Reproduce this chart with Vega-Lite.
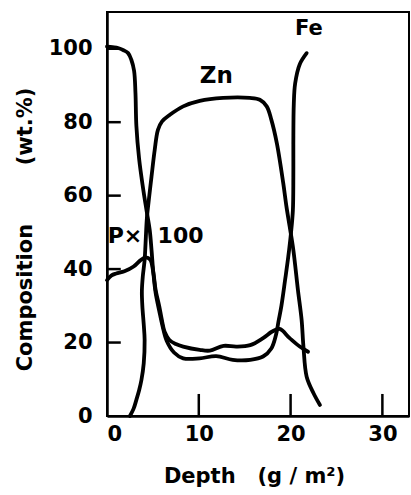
{
  "$schema": "https://vega.github.io/schema/vega-lite/v6.json",
  "width": 302,
  "height": 404,
  "autosize": "none",
  "padding": {"left": 107, "top": 12, "right": 2, "bottom": 79},
  "background": "white",
  "config": {
    "view": {"stroke": "black", "strokeWidth": 2},
    "axis": {
      "grid": false,
      "ticks": false,
      "domainColor": "black",
      "domainWidth": 2.5,
      "labelColor": "black",
      "labelFont": "DejaVu Sans",
      "labelFontWeight": "bold",
      "labelFontSize": 21,
      "titleColor": "black",
      "titleFont": "DejaVu Sans",
      "titleFontWeight": "bold",
      "titleFontSize": 21
    }
  },
  "datasets": {
    "curves": [
      {"series": "Fe", "i": 1, "depth": 0, "value": 100.6},
      {"series": "Fe", "i": 2, "depth": 0.6, "value": 100.4},
      {"series": "Fe", "i": 3, "depth": 1.2, "value": 100.2},
      {"series": "Fe", "i": 4, "depth": 1.8, "value": 99.6},
      {"series": "Fe", "i": 5, "depth": 2.3, "value": 98.8},
      {"series": "Fe", "i": 6, "depth": 2.65, "value": 97},
      {"series": "Fe", "i": 7, "depth": 2.95, "value": 94},
      {"series": "Fe", "i": 8, "depth": 3.1, "value": 88},
      {"series": "Fe", "i": 9, "depth": 3.2, "value": 79},
      {"series": "Fe", "i": 10, "depth": 3.5, "value": 70},
      {"series": "Fe", "i": 11, "depth": 3.9, "value": 62.5},
      {"series": "Fe", "i": 12, "depth": 4.3, "value": 56.1},
      {"series": "Fe", "i": 13, "depth": 4.65, "value": 50.7},
      {"series": "Fe", "i": 14, "depth": 4.85, "value": 45.2},
      {"series": "Fe", "i": 15, "depth": 5.05, "value": 39},
      {"series": "Fe", "i": 16, "depth": 5.3, "value": 33.5},
      {"series": "Fe", "i": 17, "depth": 5.7, "value": 28.5},
      {"series": "Fe", "i": 18, "depth": 6.05, "value": 24.5},
      {"series": "Fe", "i": 19, "depth": 6.5, "value": 20.5},
      {"series": "Fe", "i": 20, "depth": 7.3, "value": 17.3},
      {"series": "Fe", "i": 21, "depth": 8.3, "value": 15.7},
      {"series": "Fe", "i": 22, "depth": 10.1, "value": 15.7},
      {"series": "Fe", "i": 23, "depth": 11.9, "value": 16.3},
      {"series": "Fe", "i": 24, "depth": 13.7, "value": 15.3},
      {"series": "Fe", "i": 25, "depth": 15.6, "value": 15.3},
      {"series": "Fe", "i": 26, "depth": 17.0, "value": 16.2},
      {"series": "Fe", "i": 27, "depth": 17.9, "value": 18.4},
      {"series": "Fe", "i": 28, "depth": 18.4, "value": 22},
      {"series": "Fe", "i": 29, "depth": 18.7, "value": 26},
      {"series": "Fe", "i": 30, "depth": 19.0, "value": 30},
      {"series": "Fe", "i": 31, "depth": 19.4, "value": 37},
      {"series": "Fe", "i": 32, "depth": 19.75, "value": 43.4},
      {"series": "Fe", "i": 33, "depth": 20.05, "value": 50},
      {"series": "Fe", "i": 34, "depth": 20.25, "value": 56},
      {"series": "Fe", "i": 35, "depth": 20.3, "value": 65},
      {"series": "Fe", "i": 36, "depth": 20.3, "value": 74},
      {"series": "Fe", "i": 37, "depth": 20.35, "value": 85},
      {"series": "Fe", "i": 38, "depth": 20.5, "value": 90.6},
      {"series": "Fe", "i": 39, "depth": 21.0, "value": 95.8},
      {"series": "Fe", "i": 40, "depth": 21.75, "value": 98.8},
      {"series": "Zn", "i": 1, "depth": 2.5, "value": 0},
      {"series": "Zn", "i": 2, "depth": 2.9, "value": 2},
      {"series": "Zn", "i": 3, "depth": 3.2, "value": 4.4},
      {"series": "Zn", "i": 4, "depth": 3.5, "value": 7},
      {"series": "Zn", "i": 5, "depth": 3.75, "value": 9.8},
      {"series": "Zn", "i": 6, "depth": 4.0, "value": 14.3},
      {"series": "Zn", "i": 7, "depth": 4.1, "value": 20.7},
      {"series": "Zn", "i": 8, "depth": 4.0, "value": 25},
      {"series": "Zn", "i": 9, "depth": 3.85, "value": 30},
      {"series": "Zn", "i": 10, "depth": 3.8, "value": 34},
      {"series": "Zn", "i": 11, "depth": 3.9, "value": 38},
      {"series": "Zn", "i": 12, "depth": 4.1, "value": 42.5},
      {"series": "Zn", "i": 13, "depth": 4.2, "value": 47},
      {"series": "Zn", "i": 14, "depth": 4.35, "value": 54},
      {"series": "Zn", "i": 15, "depth": 4.6, "value": 59.8},
      {"series": "Zn", "i": 16, "depth": 4.85, "value": 65.2},
      {"series": "Zn", "i": 17, "depth": 5.2, "value": 72.5},
      {"series": "Zn", "i": 18, "depth": 5.55, "value": 77.9},
      {"series": "Zn", "i": 19, "depth": 6.0, "value": 80.2},
      {"series": "Zn", "i": 20, "depth": 6.85, "value": 82},
      {"series": "Zn", "i": 21, "depth": 8.3, "value": 84.3},
      {"series": "Zn", "i": 22, "depth": 10.1, "value": 85.8},
      {"series": "Zn", "i": 23, "depth": 12.65, "value": 86.6},
      {"series": "Zn", "i": 24, "depth": 15.55, "value": 86.6},
      {"series": "Zn", "i": 25, "depth": 16.65, "value": 86.1},
      {"series": "Zn", "i": 26, "depth": 17.4, "value": 84.3},
      {"series": "Zn", "i": 27, "depth": 17.9, "value": 80.7},
      {"series": "Zn", "i": 28, "depth": 18.5, "value": 74.3},
      {"series": "Zn", "i": 29, "depth": 19.2, "value": 63.4},
      {"series": "Zn", "i": 30, "depth": 19.55, "value": 57},
      {"series": "Zn", "i": 31, "depth": 19.9, "value": 51.6},
      {"series": "Zn", "i": 32, "depth": 20.3, "value": 45.2},
      {"series": "Zn", "i": 33, "depth": 20.8, "value": 34.3},
      {"series": "Zn", "i": 34, "depth": 21.2, "value": 26.2},
      {"series": "Zn", "i": 35, "depth": 21.4, "value": 18.9},
      {"series": "Zn", "i": 36, "depth": 21.75, "value": 10.7},
      {"series": "Zn", "i": 37, "depth": 22.5, "value": 6.2},
      {"series": "Zn", "i": 38, "depth": 23.2, "value": 3.0},
      {"series": "P", "i": 1, "depth": 0, "value": 37},
      {"series": "P", "i": 2, "depth": 0.5, "value": 38.3},
      {"series": "P", "i": 3, "depth": 1.0, "value": 38.8},
      {"series": "P", "i": 4, "depth": 1.9, "value": 39.4},
      {"series": "P", "i": 5, "depth": 2.9, "value": 40.7},
      {"series": "P", "i": 6, "depth": 3.6, "value": 42.3},
      {"series": "P", "i": 7, "depth": 4.2, "value": 43.2},
      {"series": "P", "i": 8, "depth": 4.7, "value": 42.6},
      {"series": "P", "i": 9, "depth": 5.05, "value": 39},
      {"series": "P", "i": 10, "depth": 5.3, "value": 34.3},
      {"series": "P", "i": 11, "depth": 5.7, "value": 29.8},
      {"series": "P", "i": 12, "depth": 5.95, "value": 26.5},
      {"series": "P", "i": 13, "depth": 6.3, "value": 22.8},
      {"series": "P", "i": 14, "depth": 6.8, "value": 20.7},
      {"series": "P", "i": 15, "depth": 7.5, "value": 19.6},
      {"series": "P", "i": 16, "depth": 8.3, "value": 18.9},
      {"series": "P", "i": 17, "depth": 10.1, "value": 18},
      {"series": "P", "i": 18, "depth": 11.2, "value": 17.8},
      {"series": "P", "i": 19, "depth": 12.7, "value": 19.1},
      {"series": "P", "i": 20, "depth": 14.1, "value": 18.9},
      {"series": "P", "i": 21, "depth": 15.6, "value": 19.3},
      {"series": "P", "i": 22, "depth": 17.0, "value": 21.2},
      {"series": "P", "i": 23, "depth": 18.0, "value": 23},
      {"series": "P", "i": 24, "depth": 18.8, "value": 23.7},
      {"series": "P", "i": 25, "depth": 19.9, "value": 21.2},
      {"series": "P", "i": 26, "depth": 21.0, "value": 18.9},
      {"series": "P", "i": 27, "depth": 21.9, "value": 17.5}
    ],
    "labels": [
      {"label": "Zn", "depth": 11.9, "value": 92.5, "size": 23},
      {"label": "Fe", "depth": 22.0, "value": 105.4, "size": 21},
      {"label": "P×\u00a0\u00a0100", "depth": 5.3, "value": 48.9, "size": 22}
    ]
  },
  "layer": [
    {
      "data": {"values": [{"t": 20}, {"t": 40}, {"t": 60}, {"t": 80}, {"t": 100}]},
      "mark": {"type": "rule", "color": "black", "strokeWidth": 2.5},
      "encoding": {
        "y": {"field": "t", "type": "quantitative", "scale": {"domain": [0, 110], "nice": false}},
        "x": {"datum": 0, "type": "quantitative", "scale": {"domain": [0, 32.9], "nice": false, "zero": false}},
        "x2": {"datum": 1.5}
      }
    },
    {
      "data": {"values": [{"t": 10}, {"t": 20}, {"t": 30}]},
      "mark": {"type": "rule", "color": "black", "strokeWidth": 2.5},
      "encoding": {
        "x": {"field": "t", "type": "quantitative"},
        "y": {"datum": 0, "type": "quantitative"},
        "y2": {"datum": 6}
      }
    },
    {
      "data": {"name": "curves"},
      "mark": {"type": "line", "color": "black", "strokeWidth": 3.8, "interpolate": "catmull-rom", "strokeCap": "round", "strokeJoin": "round"},
      "encoding": {
        "x": {
          "field": "depth", "type": "quantitative",
          "axis": {
            "values": [0, 10, 20, 30],
            "format": "d",
            "labelPadding": 7,
            "labelBaseline": "top",
            "title": "Depth\u00a0\u00a0\u00a0(g\u00a0/\u00a0m²)",
            "titleX": 147,
            "titleY": 66,
            "titleBaseline": "alphabetic",
            "titleAlign": "center"
          }
        },
        "y": {
          "field": "value", "type": "quantitative",
          "axis": {
            "values": [0, 20, 40, 60, 80, 100],
            "format": "d",
            "labelPadding": 15,
            "title": "Composition\u00a0\u00a0\u00a0\u00a0\u00a0\u00a0\u00a0\u00a0(wt.%)",
            "titleAngle": 270,
            "titleX": -82,
            "titleY": 217,
            "titleBaseline": "middle",
            "titleAlign": "center"
          }
        },
        "detail": {"field": "series"},
        "order": {"field": "i", "type": "quantitative"}
      }
    },
    {
      "data": {"name": "labels"},
      "mark": {"type": "text", "font": "DejaVu Sans", "fontWeight": "bold", "color": "black", "align": "center", "baseline": "middle"},
      "encoding": {
        "x": {"field": "depth", "type": "quantitative"},
        "y": {"field": "value", "type": "quantitative"},
        "text": {"field": "label"},
        "size": {"field": "size", "type": "quantitative", "scale": null}
      }
    }
  ]
}
